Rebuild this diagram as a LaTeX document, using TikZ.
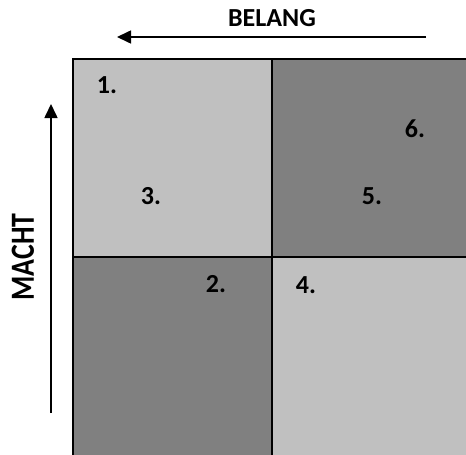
\documentclass[tikz,border=0pt]{standalone}
\usepackage{fontspec}
\setmainfont{Carlito}
\usetikzlibrary{arrows.meta}
\definecolor{lightg}{HTML}{C0C0C0}
\definecolor{darkg}{HTML}{808080}
\begin{document}
\begin{tikzpicture}[x=1pt,y=-1pt,
  lbl/.style={font=\bfseries\fontsize{26}{26}\selectfont, inner sep=0pt},
  cell/.style={draw=black, line width=2pt},
  axis/.style={line width=1.6pt, -{Triangle[length=14pt,width=13pt]}}]
\useasboundingbox (0,0) rectangle (466,455);
\fill[lightg] (73,59) rectangle (272,257);
\fill[darkg] (272,59) rectangle (470,257);
\fill[darkg] (73,257) rectangle (272,460);
\fill[lightg] (272,257) rectangle (470,460);
\draw[cell] (470,59) -- (73,59) -- (73,460);
\draw[cell] (272,59) -- (272,460);
\draw[cell] (73,257) -- (470,257);
\node[lbl] (t1) at (107,85) {1.};
\node[lbl] (t3) at (151,196) {3.};
\node[lbl] (t2) at (216,284) {2.};
\node[lbl] (t4) at (306,285) {4.};
\node[lbl] (t5) at (372,196) {5.};
\node[lbl] (t6) at (415,129) {6.};
\node[lbl] (belang) at (272,18) {BELANG};
\node[lbl, rotate=90] (macht) at (23,257) {\scalebox{1.07}[1.3]{MACHT}};
\coordinate (b0) at (426,37);
\coordinate (b1) at (117,37);
\coordinate (m0) at (51,413);
\coordinate (m1) at (51,104);
\draw[axis] (b0) -- (b1);
\draw[axis] (m0) -- (m1);
\end{tikzpicture}
\end{document}
